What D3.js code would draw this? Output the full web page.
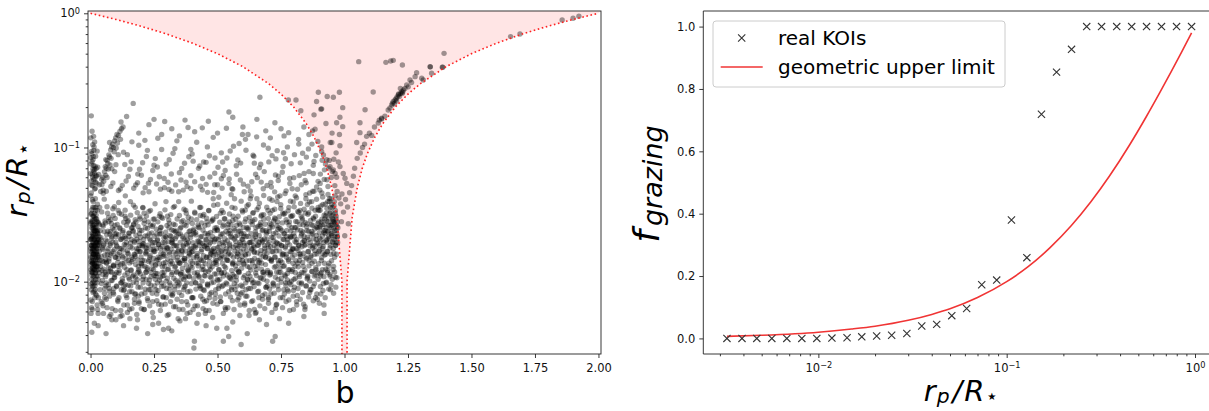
<!DOCTYPE html>
<html lang="en">
<head>
<meta charset="UTF-8">
<title>Grazing KOIs</title>
<script src="https://d3js.org/d3.v7.min.js"></script>
<style>
  body {margin: 0; background: #fff;}
  text {font-family: "DejaVu Sans", sans-serif; fill: #000;}
</style>
</head>
<body>
<script>
const width = 1209, height = 411;

// ---- left panel: impact parameter b vs r_p/R* ----
const koisEdgeStrip = [
[.002,.0123],[.006,.0186],[.011,.0093],[.015,.0265],[.019,.0144],[.024,.0217],[.029,.0110],[.034,.0168],[.038,.0240],[.004,.0324],
[.008,.0137],[.013,.0206],[.017,.0098],[.021,.0293],[.026,.0160],[.031,.0076],[.036,.0196],[.001,.0177],[.005,.0252],[.009,.0117],
[.014,.0358],[.018,.0186],[.022,.0130],[.027,.0228],[.032,.0152],[.003,.0087],[.007,.0279],[.012,.0160],[.016,.0123],[.020,.0340],
[.025,.0196],[.030,.0104],[.035,.0265],[.039,.0130],[.002,.0206],[.006,.0152],[.010,.0395],[.014,.0110],[.018,.0240],[.023,.0177],
[.028,.0062],[.033,.0217],[.037,.0144],[.004,.0104],[.008,.0228],[.012,.0308],[.016,.0168],[.020,.0081],[.024,.0137],[.029,.0279],
[.034,.0117],[.001,.0436],[.005,.0144],[.009,.0196],[.013,.0123],[.017,.0252],[.021,.0160],[.026,.0098],[.031,.0206],[.036,.0358],
[.003,.0168],[.007,.0071],[.011,.0217],[.015,.0186],[.019,.0415],[.023,.0110],[.028,.0177],[.033,.0137],[.038,.0087],[.002,.0279],
[.006,.0117],[.010,.0137],[.014,.0240],[.018,.0152],[.022,.0196],[.027,.0340],[.032,.0123],[.004,.0186],[.008,.0098],[.012,.0265],
[.016,.0207],[.020,.0130],[.025,.0152],[.030,.0228],[.003,.0458],[.009,.0308],[.013,.0160],[.017,.0093],[.022,.0252],[.027,.0130],
[.035,.0186],[.005,.0217],[.011,.0177],[.019,.0117],[.024,.0293],[.007,.0062],[.015,.0049],[.002,.0058],[.026,.0067],[.010,.0083],
[.030,.0058],[.017,.0076],
[.001,.0152],[.003,.0231],[.004,.0118],[.006,.0286],[.007,.0139],[.009,.0171],[.010,.0247],[.012,.0101],[.013,.0193],[.015,.0322],
[.016,.0132],[.018,.0214],[.019,.0087],[.021,.0181],[.022,.0269],[.024,.0121],[.025,.0168],[.027,.0377],[.028,.0146],[.030,.0199],
[.002,.0096],[.003,.0187],[.005,.0343],[.006,.0127],[.008,.0262],[.009,.0153],[.011,.0109],[.012,.0224],[.014,.0172],[.015,.0134],
[.017,.0299],[.018,.0116],[.020,.0243],[.021,.0147],[.023,.0202],[.024,.0079],[.026,.0235],[.027,.0185],[.029,.0156],[.031,.0273],
[.001,.0271],[.002,.0141],[.004,.0209],[.005,.0112],[.007,.0176],[.008,.0408],[.010,.0161],[.011,.0251],[.013,.0127],[.014,.0289],
[.016,.0183],[.017,.0137],[.019,.0226],[.020,.0104],[.022,.0314],[.023,.0164],[.025,.0128],[.026,.0207],[.028,.0243],[.033,.0191],
[.000,.0206],[.002,.0318],[.003,.0134],[.005,.0164],[.006,.0211],[.008,.0126],[.009,.0359],[.011,.0143],[.012,.0188],[.014,.0085],
[.015,.0237],[.016,.0491],[.018,.0158],[.020,.0196],[.021,.0358],[.023,.0238],[.025,.0279],[.001,.0073],[.004,.0064],[.007,.0092],
[.004,.0525],[.012,.0575],[.019,.0496],[.007,.0632],[.015,.0688],[.024,.0541],[.002,.0754],[.010,.0812],[.021,.0615],[.005,.0897],
[.013,.0952],[.028,.0713],[.009,.1050],[.017,.0589],[.001,.1180],[.006,.1320],[.003,.1720],[.011,.0735],[.020,.0860],[.032,.0630],
[.008,.0518],[.016,.1100],[.000,.0640],[.026,.0940],[.035,.0528],
[.003,.0561],[.008,.0603],[.013,.0668],[.018,.0724],[.006,.0782],[.011,.0855],[.016,.0641],[.022,.0697],[.004,.0936],[.014,.1010],
[.019,.0551],[.009,.0692],[.001,.0840],[.025,.0612],[.012,.1210]
];

const koisSpur = [
[.040,.0470],[.045,.0530],[.048,.0600],[.052,.0560],[.055,.0660],[.058,.0720],[.062,.0700],[.065,.0800],[.068,.0760],[.072,.0880],
[.075,.0850],[.079,.0960],[.083,.1010],[.087,.1060],[.090,.1000],[.095,.1120],[.099,.1180],[.104,.1250],[.110,.1230],[.116,.1320],
[.122,.1380],[.128,.1420],[.050,.0480],[.060,.0620],[.070,.0690],[.081,.0830],[.093,.0930],[.106,.1080],[.118,.1150],[.044,.0580],
[.077,.0740],[.101,.0990]
];

const koisDisk = [
[.045,.0121],[.052,.0187],[.061,.0093],[.048,.0265],[.072,.0142],[.083,.0211],[.095,.0108],[.067,.0324],[.056,.0076],[.088,.0168],
[.079,.0289],[.091,.0131],[.043,.0154],[.064,.0224],[.099,.0197],[.075,.0085],[.058,.0118],[.086,.0251],[.047,.0069],[.069,.0176],
[.081,.0102],[.094,.0362],[.053,.0141],[.077,.0236],[.062,.0098],[.097,.0152],[.042,.0205],[.071,.0127],[.085,.0063],[.059,.0274],
[.092,.0089],[.066,.0159],[.049,.0113],[.078,.0192],[.089,.0311],[.055,.0082],[.074,.0055],[.096,.0226],[.063,.0139],[.084,.0117],
[.103,.0117],[.118,.0206],[.131,.0093],[.147,.0279],[.162,.0152],[.178,.0081],[.193,.0228],[.109,.0340],[.125,.0137],[.139,.0186],
[.154,.0062],[.169,.0265],[.184,.0104],[.197,.0168],[.112,.0076],[.128,.0240],[.143,.0123],[.157,.0395],[.173,.0196],[.188,.0130],
[.106,.0160],[.121,.0098],[.136,.0308],[.151,.0217],[.166,.0110],[.181,.0045],[.195,.0293],[.115,.0177],[.133,.0087],[.149,.0144],
[.164,.0252],[.176,.0358],[.191,.0071],[.101,.0228],[.124,.0056],[.141,.0196],[.158,.0093],[.172,.0160],[.186,.0117],[.199,.0137],
[.113,.0324],[.127,.0152],[.145,.0067],[.161,.0206],[.179,.0279],[.192,.0186],[.108,.0130],[.137,.0436],[.153,.0104],[.168,.0240],
[.183,.0168],[.119,.0098],[.174,.0081],[.135,.0217],[.189,.0123],
[.204,.0144],[.216,.0252],[.229,.0087],[.243,.0186],[.257,.0110],[.271,.0308],[.286,.0160],[.298,.0076],[.209,.0206],[.223,.0123],
[.236,.0340],[.249,.0168],[.263,.0098],[.278,.0228],[.292,.0130],[.212,.0062],[.227,.0279],[.241,.0137],[.254,.0196],[.268,.0049],
[.282,.0117],[.295,.0217],[.206,.0358],[.219,.0104],[.233,.0152],[.247,.0265],[.261,.0081],[.275,.0177],[.289,.0093],[.202,.0186],
[.214,.0130],[.231,.0228],[.245,.0071],[.259,.0144],[.273,.0240],[.284,.0110],[.297,.0395],[.207,.0098],[.221,.0168],[.238,.0117],
[.252,.0293],[.266,.0152],[.279,.0067],[.293,.0196],[.225,.0041],[.264,.0206],[.211,.0324],[.248,.0123],[.287,.0137],[.235,.0087],
[.276,.0252],[.218,.0177],[.255,.0104],
[.304,.0123],[.317,.0217],[.331,.0093],[.344,.0168],[.358,.0279],[.372,.0110],[.386,.0196],[.399,.0076],[.309,.0252],[.322,.0137],
[.336,.0186],[.349,.0062],[.363,.0144],[.377,.0324],[.391,.0160],[.312,.0098],[.326,.0358],[.339,.0117],[.353,.0228],[.367,.0087],
[.381,.0206],[.394,.0130],[.301,.0177],[.315,.0071],[.328,.0240],[.342,.0152],[.356,.0104],[.369,.0265],[.384,.0123],[.397,.0293],
[.307,.0045],[.319,.0196],[.334,.0130],[.347,.0395],[.361,.0168],[.374,.0053],[.388,.0110],[.303,.0308],[.324,.0081],[.338,.0217],
[.351,.0137],[.365,.0186],[.379,.0098],[.392,.0240],[.311,.0160],[.345,.0093],[.371,.0144],[.396,.0177],[.333,.0265],[.359,.0117],
[.383,.0067],[.321,.0206],[.375,.0340],
[.402,.0168],[.415,.0098],[.428,.0252],[.441,.0130],[.455,.0206],[.468,.0076],[.482,.0293],[.496,.0144],[.407,.0228],[.421,.0117],
[.434,.0358],[.447,.0186],[.461,.0093],[.474,.0160],[.488,.0240],[.404,.0062],[.418,.0152],[.431,.0196],[.444,.0087],[.458,.0279],
[.471,.0123],[.485,.0177],[.499,.0104],[.411,.0324],[.424,.0137],[.438,.0217],[.451,.0110],[.465,.0340],[.478,.0168],[.492,.0081],
[.409,.0036],[.423,.0265],[.436,.0144],[.449,.0071],[.463,.0228],[.476,.0098],[.489,.0206],[.413,.0186],[.427,.0110],[.442,.0308],
[.456,.0152],[.469,.0130],[.483,.0415],[.497,.0252],[.419,.0049],[.446,.0123],[.472,.0196],[.494,.0160],[.432,.0093],[.459,.0177],
[.486,.0137],[.405,.0240],[.452,.0058],
[.503,.0206],[.516,.0117],[.529,.0293],[.542,.0160],[.556,.0087],[.569,.0240],[.583,.0137],[.597,.0340],[.508,.0152],[.521,.0228],
[.534,.0098],[.548,.0186],[.561,.0308],[.575,.0123],[.588,.0196],[.512,.0071],[.525,.0265],[.538,.0144],[.552,.0217],[.565,.0110],
[.579,.0177],[.592,.0081],[.501,.0376],[.514,.0168],[.527,.0130],[.541,.0252],[.554,.0104],[.567,.0415],[.581,.0160],[.594,.0228],
[.506,.0093],[.519,.0196],[.532,.0062],[.546,.0279],[.559,.0137],[.572,.0186],[.586,.0117],[.599,.0206],[.511,.0324],[.537,.0045],
[.563,.0152],[.589,.0265],[.523,.0110],[.549,.0240],[.576,.0093],[.598,.0144],[.531,.0168],[.557,.0358],[.584,.0076],[.505,.0123],
[.544,.0039],[.571,.0217],
[.604,.0228],[.617,.0130],[.631,.0279],[.644,.0168],[.658,.0098],[.671,.0308],[.685,.0186],[.698,.0117],[.609,.0160],[.622,.0376],
[.636,.0144],[.649,.0217],[.663,.0076],[.676,.0240],[.689,.0152],[.612,.0087],[.626,.0196],[.639,.0324],[.653,.0123],[.667,.0265],
[.681,.0104],[.694,.0206],[.602,.0137],[.615,.0252],[.628,.0110],[.642,.0186],[.655,.0415],[.669,.0160],[.682,.0293],[.696,.0093],
[.607,.0067],[.621,.0217],[.634,.0177],[.647,.0130],[.661,.0358],[.674,.0137],[.687,.0081],[.611,.0293],[.638,.0098],[.664,.0196],
[.691,.0240],[.624,.0056],[.651,.0252],[.678,.0117],[.605,.0186],[.632,.0436],[.659,.0144],[.686,.0168],[.645,.0062],[.672,.0206],
[.699,.0340],[.618,.0104],[.693,.0048],
[.703,.0196],[.716,.0340],[.729,.0130],[.742,.0252],[.756,.0160],[.769,.0098],[.783,.0279],[.797,.0177],[.708,.0117],[.721,.0228],
[.734,.0395],[.748,.0144],[.761,.0206],[.775,.0087],[.788,.0308],[.712,.0265],[.725,.0152],[.738,.0104],[.752,.0186],[.765,.0324],
[.779,.0123],[.792,.0217],[.701,.0076],[.714,.0168],[.727,.0293],[.741,.0137],[.754,.0240],[.767,.0110],[.781,.0358],[.794,.0152],
[.706,.0252],[.719,.0093],[.732,.0196],[.746,.0436],[.759,.0130],[.772,.0217],[.786,.0168],[.799,.0062],[.711,.0144],[.737,.0279],
[.763,.0081],[.789,.0240],[.723,.0186],[.749,.0117],[.776,.0206],[.798,.0393],[.731,.0067],[.757,.0324],[.784,.0098],[.705,.0415],
[.744,.0053],[.771,.0160],[.795,.0123],
[.803,.0217],[.816,.0137],[.829,.0308],[.842,.0186],[.856,.0110],[.869,.0265],[.883,.0160],[.896,.0358],[.808,.0252],[.821,.0098],
[.834,.0196],[.848,.0415],[.861,.0144],[.875,.0228],[.888,.0123],[.812,.0177],[.825,.0340],[.838,.0130],[.852,.0240],[.865,.0087],
[.879,.0293],[.892,.0196],[.801,.0104],[.814,.0279],[.827,.0160],[.841,.0217],[.854,.0376],[.867,.0152],[.881,.0110],[.894,.0252],
[.806,.0436],[.819,.0186],[.832,.0117],[.846,.0324],[.859,.0206],[.872,.0137],[.886,.0076],[.899,.0168],[.811,.0071],[.837,.0265],
[.863,.0458],[.889,.0206],[.823,.0144],[.849,.0093],[.876,.0186],[.898,.0279],[.831,.0228],[.857,.0168],[.884,.0340],[.805,.0130],
[.844,.0062],[.871,.0395],[.893,.0117],
[.903,.0186],[.912,.0265],[.921,.0137],[.929,.0324],[.938,.0217],[.946,.0160],[.954,.0293],[.962,.0240],[.968,.0196],[.906,.0110],
[.915,.0376],[.924,.0228],[.932,.0168],[.941,.0415],[.949,.0252],[.957,.0130],[.964,.0340],[.971,.0279],[.901,.0252],[.909,.0144],
[.918,.0196],[.927,.0098],[.935,.0279],[.944,.0186],[.952,.0358],[.959,.0206],[.966,.0265],[.972,.0217],[.904,.0340],[.913,.0123],
[.922,.0293],[.931,.0206],[.939,.0137],[.948,.0308],[.956,.0177],[.963,.0436],[.969,.0160],[.907,.0081],[.917,.0240],[.926,.0160],
[.934,.0395],[.943,.0110],[.951,.0228],[.958,.0279],[.965,.0186],[.974,.0252],[.911,.0458],[.928,.0252],[.945,.0087],[.961,.0152],
[.937,.0240],[.953,.0196],[.967,.0308],[.919,.0067],[.942,.0324],[.960,.0395],[.970,.0228],[.947,.0415],[.955,.0123],[.973,.0196],
[.914,.0177],[.933,.0117],[.950,.0265],[.964,.0108]
];

const koisDiskFill = [
[.041,.0213],[.043,.0097],[.044,.0331],[.046,.0142],[.047,.0178],[.049,.0066],[.050,.0259],[.052,.0124],[.053,.0191],[.054,.0412],
[.056,.0158],[.057,.0283],[.059,.0109],[.060,.0205],[.062,.0074],[.063,.0137],[.065,.0362],[.066,.0169],[.068,.0238],[.069,.0118],
[.071,.0301],[.073,.0148],[.074,.0089],[.076,.0227],[.077,.0186],[.079,.0126],[.080,.0057],[.082,.0271],[.083,.0163],[.085,.0102],
[.087,.0197],[.088,.0349],[.090,.0131],[.091,.0081],[.093,.0244],[.094,.0174],[.096,.0113],[.097,.0296],[.099,.0152],[.100,.0216],
[.102,.0093],[.104,.0183],[.105,.0267],[.107,.0139],[.108,.0071],[.110,.0224],[.111,.0389],[.113,.0121],[.114,.0165],[.116,.0248],
[.118,.0133],[.119,.0061],[.121,.0207],[.122,.0318],[.124,.0156],[.125,.0105],[.127,.0233],[.128,.0172],[.130,.0086],[.131,.0277],
[.133,.0189],[.134,.0128],[.136,.0341],[.137,.0095],[.139,.0211],[.140,.0149],[.142,.0263],[.143,.0076],[.145,.0171],[.146,.0116],
[.148,.0286],[.149,.0161],[.151,.0107],[.152,.0229],[.154,.0138],[.155,.0053],[.157,.0194],[.158,.0313],[.160,.0122],[.161,.0251],
[.163,.0084],[.164,.0178],[.166,.0147],[.167,.0236],[.169,.0372],[.170,.0112],[.172,.0201],[.173,.0069],[.175,.0159],[.176,.0289],
[.178,.0134],[.179,.0222],[.181,.0098],[.182,.0176],[.184,.0327],[.185,.0145],[.187,.0258],[.188,.0078],[.190,.0199],[.191,.0119],
[.193,.0167],[.194,.0304],[.196,.0091],[.197,.0214],[.199,.0153],[.200,.0063],[.202,.0241],[.203,.0131],[.205,.0184],[.206,.0355],
[.208,.0109],[.209,.0192],[.211,.0272],[.212,.0143],[.214,.0082],[.215,.0219],[.217,.0164],[.218,.0117],[.220,.0308],[.221,.0179],
[.223,.0127],[.224,.0249],[.226,.0072],[.227,.0187],[.229,.0141],[.230,.0333],[.232,.0103],[.233,.0208],[.235,.0157],[.236,.0264],
[.238,.0094],[.239,.0173],[.241,.0231],[.242,.0125],[.244,.0059],[.245,.0196],[.247,.0292],[.248,.0149],[.250,.0111],[.251,.0218],
[.253,.0168],[.254,.0381],[.256,.0132],[.257,.0087],[.259,.0246],[.260,.0177],[.262,.0115],[.263,.0203],[.265,.0279],[.266,.0146],
[.268,.0068],[.269,.0189],[.271,.0136],[.272,.0226],[.274,.0321],[.275,.0108],[.277,.0162],[.278,.0255],[.280,.0092],[.281,.0183],
[.283,.0129],[.284,.0297],[.286,.0154],[.287,.0077],[.289,.0212],[.290,.0118],[.292,.0171],[.293,.0343],[.295,.0139],[.296,.0234],
[.298,.0101],[.299,.0181],[.301,.0262],[.302,.0056],[.304,.0147],[.305,.0198],[.307,.0124],[.308,.0288],[.310,.0166],[.311,.0088],
[.313,.0221],[.314,.0135],[.316,.0316],[.317,.0175],[.319,.0113],[.320,.0243],[.322,.0079],[.323,.0193],[.325,.0151],[.326,.0268],
[.328,.0106],[.329,.0185],[.331,.0364],[.332,.0128],[.334,.0209],[.335,.0065],[.337,.0161],[.338,.0239],[.340,.0119],[.341,.0293],
[.343,.0144],[.344,.0099],[.346,.0227],[.347,.0172],[.349,.0083],[.350,.0311],[.352,.0137],[.353,.0196],[.355,.0114],[.356,.0254],
[.358,.0159],[.359,.0071],[.361,.0218],[.362,.0126],[.364,.0285],[.365,.0182],[.367,.0104],[.368,.0347],[.370,.0149],[.371,.0205],
[.373,.0093],[.374,.0169],[.376,.0261],[.377,.0133],[.379,.0224],[.380,.0058],[.382,.0188],[.383,.0121],[.385,.0302],[.386,.0155],
[.388,.0236],[.389,.0109],[.391,.0174],[.392,.0085],[.394,.0213],[.395,.0142],[.397,.0398],[.398,.0166],[.400,.0127],[.401,.0271],
[.403,.0195],[.404,.0076],[.406,.0151],[.407,.0247],[.409,.0116],[.410,.0329],[.412,.0179],[.413,.0098],[.415,.0223],[.416,.0138],
[.418,.0289],[.419,.0162],[.421,.0066],[.422,.0201],[.424,.0131],[.425,.0256],[.427,.0108],[.428,.0186],[.430,.0357],[.431,.0147],
[.433,.0215],[.434,.0089],[.436,.0168],[.437,.0274],[.439,.0123],[.440,.0193],[.442,.0074],[.443,.0242],[.445,.0156],[.446,.0317],
[.448,.0111],[.449,.0183],[.451,.0229],[.452,.0136],[.454,.0061],[.455,.0204],[.457,.0297],[.458,.0152],[.460,.0096],[.461,.0176],
[.463,.0265],[.464,.0119],[.466,.0338],[.467,.0189],[.469,.0141],[.470,.0081],[.472,.0233],[.473,.0164],[.475,.0107],[.476,.0282],
[.478,.0172],[.479,.0129],[.481,.0216],[.482,.0069],[.484,.0157],[.485,.0371],[.487,.0198],[.488,.0114],[.490,.0251],[.491,.0145],
[.493,.0087],[.494,.0209],[.496,.0306],[.497,.0134],[.499,.0178],[.500,.0241],[.502,.0102],[.503,.0165],[.505,.0426],[.506,.0123],
[.508,.0192],[.509,.0277],[.511,.0077],[.512,.0148],[.514,.0226],[.515,.0115],[.517,.0339],[.518,.0171],[.520,.0137],[.521,.0259],
[.523,.0094],[.524,.0185],[.526,.0153],[.527,.0294],[.529,.0209],[.530,.0064],[.532,.0127],[.533,.0237],[.535,.0176],[.536,.0384],
[.538,.0112],[.539,.0202],[.541,.0144],[.542,.0268],[.544,.0084],[.545,.0163],[.547,.0319],[.548,.0191],[.550,.0106],[.551,.0229],
[.553,.0158],[.554,.0445],[.556,.0121],[.557,.0213],[.559,.0072],[.560,.0286],[.562,.0139],[.563,.0181],[.565,.0248],[.566,.0097],
[.568,.0169],[.569,.0352],[.571,.0131],[.572,.0199],[.574,.0109],[.575,.0263],[.577,.0154],[.578,.0082],[.580,.0222],[.581,.0307],
[.583,.0118],[.584,.0184],[.586,.0273],[.587,.0146],[.589,.0067],[.590,.0238],[.592,.0167],[.593,.0398],[.595,.0126],[.596,.0207],
[.598,.0092],[.599,.0331],[.601,.0175],[.602,.0253],[.604,.0135],[.605,.0194],[.607,.0111],[.608,.0279],[.610,.0157],[.611,.0078],
[.613,.0217],[.614,.0143],[.616,.0366],[.617,.0186],[.619,.0103],[.620,.0245],[.622,.0161],[.623,.0089],[.625,.0301],[.626,.0128],
[.628,.0196],[.629,.0415],[.631,.0122],[.632,.0228],[.634,.0071],[.635,.0173],[.637,.0267],[.638,.0138],[.640,.0211],[.641,.0327],
[.643,.0099],[.644,.0181],[.646,.0149],[.647,.0291],[.649,.0236],[.650,.0116],[.652,.0059],[.653,.0203],[.655,.0344],[.656,.0164],
[.658,.0132],[.659,.0258],[.661,.0187],[.662,.0085],[.664,.0221],[.665,.0384],[.667,.0145],[.668,.0107],[.670,.0276],[.671,.0171],
[.673,.0124],[.674,.0314],[.676,.0197],[.677,.0074],[.679,.0243],[.680,.0155],[.682,.0439],[.683,.0113],[.685,.0208],[.686,.0177],
[.688,.0268],[.689,.0134],[.691,.0091],[.692,.0226],[.694,.0359],[.695,.0163],[.697,.0121],[.698,.0189],[.700,.0296],[.701,.0069],
[.703,.0149],[.704,.0237],[.706,.0112],[.707,.0323],[.709,.0182],[.710,.0081],[.712,.0214],[.713,.0142],[.715,.0404],[.716,.0256],
[.718,.0167],[.719,.0098],[.721,.0283],[.722,.0201],[.724,.0128],[.725,.0346],[.727,.0153],[.728,.0063],[.730,.0231],[.731,.0179],
[.733,.0118],[.734,.0262],[.736,.0193],[.737,.0427],[.739,.0144],[.740,.0087],[.742,.0219],[.743,.0305],[.745,.0169],[.746,.0126],
[.748,.0248],[.749,.0375],[.751,.0106],[.752,.0185],[.754,.0139],[.755,.0274],[.757,.0076],[.758,.0207],[.760,.0161],[.761,.0318],
[.763,.0131],[.764,.0227],[.766,.0453],[.767,.0178],[.769,.0094],[.770,.0289],[.772,.0152],[.773,.0241],[.775,.0115],[.776,.0196],
[.778,.0337],[.779,.0146],[.781,.0073],[.782,.0263],[.784,.0188],[.785,.0123],[.787,.0398],[.788,.0213],[.790,.0166],[.791,.0101],
[.793,.0252],[.794,.0174],[.796,.0311],[.797,.0137],[.799,.0086],[.800,.0229],[.802,.0361],[.803,.0158],[.805,.0199],[.806,.0117],
[.808,.0281],[.809,.0143],[.811,.0422],[.812,.0206],[.814,.0079],[.815,.0243],[.817,.0171],[.818,.0129],[.820,.0329],[.821,.0186],
[.823,.0109],[.824,.0267],[.826,.0154],[.827,.0383],[.829,.0219],[.830,.0096],[.832,.0182],[.833,.0298],[.835,.0139],[.836,.0235],
[.838,.0163],[.839,.0068],[.841,.0346],[.842,.0201],[.844,.0122],[.845,.0276],[.847,.0189],[.848,.0445],[.850,.0148],[.851,.0257],
[.853,.0105],[.854,.0214],[.856,.0318],[.857,.0167],[.859,.0238],[.860,.0131],[.862,.0392],[.863,.0083],[.865,.0196],[.866,.0286],
[.868,.0156],[.869,.0226],[.871,.0119],[.872,.0353],[.874,.0178],[.875,.0263],[.877,.0092],[.878,.0209],[.880,.0471],[.881,.0142],
[.883,.0247],[.884,.0184],[.886,.0307],[.887,.0127],[.889,.0221],[.890,.0411],[.892,.0161],[.893,.0074],[.895,.0272],[.896,.0193],
[.898,.0136],[.899,.0339],[.901,.0231],[.902,.0172],[.904,.0258],[.905,.0114],[.907,.0366],[.908,.0205],[.910,.0151],[.911,.0292],
[.913,.0219],[.914,.0428],[.916,.0183],[.917,.0097],[.919,.0267],[.920,.0313],[.922,.0158],[.923,.0241],[.925,.0379],[.926,.0124],
[.928,.0202],[.929,.0284],[.931,.0353],[.932,.0167],[.934,.0236],[.935,.0446],[.937,.0131],[.938,.0299],[.940,.0211],[.941,.0396],
[.943,.0178],[.944,.0262],[.946,.0331],[.947,.0228],[.949,.0143],[.950,.0377],[.952,.0281],[.953,.0199],[.955,.0314],[.956,.0248],
[.958,.0163],[.959,.0366],[.961,.0272],[.962,.0216],[.964,.0324],[.965,.0187],[.967,.0293],[.968,.0241],[.970,.0259],[.971,.0214]
];

const koisDiskLower = [
[.042,.0071],[.047,.0102],[.051,.0058],[.056,.0089],[.061,.0113],[.065,.0064],[.070,.0095],[.075,.0078],[.079,.0119],[.084,.0052],
[.089,.0083],[.093,.0107],[.098,.0061],[.103,.0092],[.107,.0073],[.112,.0116],[.117,.0055],[.121,.0087],[.126,.0101],[.131,.0067],
[.135,.0112],[.140,.0079],[.145,.0059],[.149,.0094],[.154,.0084],[.159,.0121],[.163,.0063],[.168,.0099],[.173,.0074],[.177,.0108],
[.182,.0057],[.187,.0091],[.191,.0069],[.196,.0114],[.201,.0081],[.205,.0104],[.210,.0062],[.215,.0088],[.219,.0118],[.224,.0075],
[.229,.0097],[.233,.0066],[.238,.0109],[.243,.0082],[.247,.0054],[.252,.0093],[.257,.0115],[.261,.0072],[.266,.0086],[.271,.0103],
[.275,.0061],[.280,.0098],[.285,.0077],[.289,.0111],[.294,.0068],[.299,.0089],[.303,.0106],[.308,.0057],[.313,.0094],[.317,.0081],
[.322,.0117],[.327,.0065],[.331,.0087],[.336,.0102],[.341,.0074],[.345,.0053],[.350,.0096],[.355,.0113],[.359,.0079],[.364,.0062],
[.369,.0091],[.373,.0108],[.378,.0071],[.383,.0084],[.387,.0119],[.392,.0059],[.397,.0097],[.401,.0076],[.406,.0105],[.411,.0066],
[.415,.0088],[.420,.0112],[.425,.0057],[.429,.0093],[.434,.0078],[.439,.0101],[.443,.0063],[.448,.0086],[.453,.0118],[.457,.0072],
[.462,.0095],[.467,.0061],[.471,.0109],[.476,.0083],[.481,.0054],[.485,.0099],[.490,.0075],[.495,.0114],[.499,.0068],[.504,.0089],
[.509,.0104],[.513,.0071],[.518,.0092],[.523,.0058],[.527,.0117],[.532,.0081],[.537,.0096],[.541,.0064],[.546,.0108],[.551,.0077],
[.555,.0091],[.560,.0113],[.565,.0062],[.569,.0087],[.574,.0102],[.579,.0073],[.583,.0119],[.588,.0056],[.593,.0094],[.597,.0083],
[.602,.0107],[.607,.0069],[.611,.0098],[.616,.0078],[.621,.0115],[.625,.0061],[.630,.0089],[.635,.0103],[.639,.0072],[.644,.0092],
[.649,.0058],[.653,.0111],[.658,.0084],[.663,.0097],[.667,.0066],[.672,.0106],[.677,.0079],[.681,.0118],[.686,.0063],[.691,.0091],
[.695,.0101],[.700,.0074],[.705,.0088],[.709,.0114],[.714,.0059],[.719,.0096],[.723,.0082],[.728,.0108],[.733,.0068],[.737,.0093],
[.742,.0117],[.747,.0076],[.751,.0099],[.756,.0064],[.761,.0087],[.765,.0112],[.770,.0071],[.775,.0103],[.779,.0085],[.784,.0061],
[.789,.0095],[.793,.0119],[.798,.0078],[.803,.0091],[.807,.0106],[.812,.0067],[.817,.0089],[.821,.0113],[.826,.0074],[.831,.0098],
[.835,.0083],[.840,.0116],[.845,.0065],[.849,.0093],[.854,.0108],[.859,.0077],[.863,.0101],[.868,.0087],[.873,.0119],[.877,.0072],
[.882,.0097],[.887,.0112],[.891,.0081],[.896,.0104],[.901,.0069],[.905,.0092],[.910,.0117],[.915,.0086],[.919,.0109],[.924,.0076],
[.929,.0099],[.933,.0121],[.938,.0088],[.943,.0113],[.947,.0095],[.952,.0104],[.957,.0082],[.961,.0118],[.966,.0091],[.970,.0107]
];

const koisDiskCore = [
[.048,.0174],[.054,.0236],[.060,.0146],[.066,.0199],[.072,.0281],[.078,.0158],[.084,.0217],[.090,.0133],[.096,.0262],[.102,.0187],
[.109,.0149],[.115,.0252],[.121,.0177],[.127,.0212],[.133,.0138],[.139,.0296],[.145,.0163],[.151,.0231],[.157,.0182],[.163,.0141],
[.170,.0269],[.176,.0154],[.182,.0207],[.188,.0175],[.194,.0242],[.200,.0136],[.206,.0191],[.212,.0287],[.218,.0161],[.224,.0219],
[.231,.0145],[.237,.0203],[.243,.0258],[.249,.0172],[.255,.0134],[.261,.0226],[.267,.0189],[.273,.0151],[.279,.0302],[.285,.0196],
[.292,.0157],[.298,.0214],[.304,.0179],[.310,.0273],[.316,.0142],[.322,.0201],[.328,.0166],[.334,.0235],[.340,.0184],[.346,.0139],
[.353,.0249],[.359,.0171],[.365,.0211],[.371,.0148],[.377,.0192],[.383,.0278],[.389,.0163],[.395,.0224],[.401,.0137],[.407,.0183],
[.414,.0232],[.420,.0156],[.426,.0199],[.432,.0311],[.438,.0174],[.444,.0143],[.450,.0261],[.456,.0188],[.462,.0221],[.468,.0152],
[.475,.0205],[.481,.0287],[.487,.0168],[.493,.0139],[.499,.0244],[.505,.0181],[.511,.0216],[.517,.0157],[.523,.0327],[.529,.0194],
[.536,.0147],[.542,.0229],[.548,.0176],[.554,.0265],[.560,.0135],[.566,.0208],[.572,.0292],[.578,.0162],[.584,.0239],[.590,.0189],
[.597,.0154],[.603,.0218],[.609,.0341],[.615,.0171],[.621,.0251],[.627,.0144],[.633,.0197],[.639,.0283],[.645,.0165],[.651,.0226],
[.658,.0187],[.664,.0139],[.670,.0259],[.676,.0202],[.682,.0316],[.688,.0153],[.694,.0234],[.700,.0178],[.706,.0271],[.712,.0146],
[.719,.0213],[.725,.0298],[.731,.0169],[.737,.0245],[.743,.0191],[.749,.0351],[.755,.0157],[.761,.0229],[.767,.0183],[.773,.0277],
[.780,.0142],[.786,.0218],[.792,.0306],[.798,.0175],[.804,.0253],[.810,.0196],[.816,.0334],[.822,.0161],[.828,.0241],[.834,.0288],
[.841,.0203],[.847,.0152],[.853,.0269],[.859,.0326],[.865,.0184],[.871,.0237],[.877,.0299],[.883,.0171],[.889,.0256],[.895,.0344],
[.902,.0211],[.908,.0278],[.914,.0163],[.920,.0232],[.926,.0309],[.932,.0197],[.938,.0263],[.944,.0358],[.950,.0221],[.956,.0287]
];

const koisLow = [
[.005,.0042],[.061,.0041],[.407,.0032],[.593,.0034],[.523,.0036],[.717,.0036],[.727,.0039],[.497,.0045],[.617,.0041],[.287,.0044],
[.32,.0043],[.13,.0047],[.185,.0052],[.245,.0048],[.352,.0051],[.455,.0047],[.56,.005],[.665,.0052],[.78,.0049],[.84,.0055],
[.92,.0058],[.1,.0052],[.03,.0047]
];

const koisUpper = [
[.05,.0455],[.08,.0512],[.11,.0478],[.14,.0563],[.17,.0497],[.2,.0621],[.23,.0468],[.26,.0534],[.29,.0587],[.32,.0472],
[.35,.0649],[.38,.0511],[.41,.0556],[.44,.0482],[.47,.0603],[.5,.0527],[.53,.0674],[.56,.0489],[.59,.0572],[.62,.0515],
[.65,.0631],[.68,.0493],[.71,.0548],[.74,.0612],[.77,.0475],[.8,.0596],[.83,.0528],[.86,.0661],[.89,.0507],[.92,.0578],
[.065,.0598],[.095,.0661],[.125,.0522],[.155,.0688],[.185,.0547],[.215,.0502],[.245,.0673],[.275,.0489],[.305,.0551],[.335,.0526],
[.365,.0481],[.395,.0617],[.425,.0699],[.455,.0531],[.485,.0462],[.515,.0585],[.545,.0538],[.575,.0631],[.605,.0468],[.635,.0556],
[.665,.0705],[.695,.0521],[.725,.0467],[.755,.0654],[.785,.0539],[.815,.0488],[.845,.0568],[.875,.0472],[.905,.0633],[.935,.0512],
[.06,.0812],[.1,.0745],[.13,.0921],[.16,.0783],[.19,.1040],[.22,.0856],[.25,.0738],[.28,.0967],[.31,.0811],[.34,.1120],
[.37,.0762],[.4,.0894],[.43,.0728],[.46,.1010],[.49,.0835],[.52,.0779],[.55,.0942],[.58,.0806],[.61,.1150],[.64,.0874],
[.67,.0751],[.70,.0988],[.73,.0822],[.76,.0913],[.79,.0757],[.82,.1060],[.85,.0848],[.88,.0786],[.91,.0935],[.94,.0801],
[.075,.1090],[.145,.0884],[.205,.0770],[.265,.1170],[.325,.0906],[.395,.0968],[.455,.0775],[.515,.0912],[.585,.1070],[.645,.0764],
[.715,.0870],[.775,.1010],[.835,.0905],[.895,.1110],[.925,.0752],
[.168,.213],[.142,.170],[.667,.237],[.372,.160],[.464,.157],[.56,.168],[.726,.153],[.654,.120],[.23,.148],[.28,.125],
[.32,.138],[.41,.131],[.5,.128],[.6,.142],[.69,.133],[.78,.129],[.84,.142],[.88,.175],[.779,.226],[.809,.226],
[.89,.22],[.91,.194],[.897,.258],[.19,.128],[.25,.162],[.44,.140],[.535,.139],[.62,.125],[.75,.138],[.86,.125],
[.12,.155],[.35,.122],
[.062,.0472],[.088,.0543],[.117,.0491],[.149,.0608],[.178,.0526],[.207,.0459],[.236,.0577],[.263,.0715],[.291,.0502],[.318,.0634],
[.347,.0468],[.376,.0552],[.404,.0791],[.433,.0515],[.461,.0463],[.489,.0642],[.518,.0497],[.546,.0582],[.574,.0731],[.602,.0533],
[.629,.0474],[.657,.0596],[.684,.0661],[.712,.0507],[.739,.0568],[.767,.0823],[.794,.0492],[.822,.0617],[.849,.0545],[.877,.0736],
[.903,.0481],[.931,.0574],[.952,.0663],[.612,.0954],[.643,.0859],[.681,.1042],[.702,.0781],[.735,.0947],[.758,.0721],[.803,.0884],
[.826,.0768],[.858,.0976],[.887,.0872],[.912,.0803],[.938,.0702],[.468,.0868],[.502,.0713],[.537,.0834],[.563,.1021],[.591,.0765],
[.298,.0752],[.332,.0981],[.359,.0697],[.387,.0853],[.418,.1093],[.445,.0779],[.163,.1101],[.193,.0689],[.224,.0952],[.255,.0826],
[.084,.0693],[.109,.0884],[.135,.0746],[.672,.0552],[.728,.0623],[.784,.0588],[.841,.0641],[.896,.0559],[.921,.0681],[.948,.0598],
[.557,.0492],[.523,.0618],[.489,.0528],[.441,.0587],[.395,.0494],[.356,.0573],[.309,.0487],[.271,.0605],[.228,.0542],[.186,.0633],
[.708,.1180],[.762,.1220],[.819,.1150],[.874,.1330],[.598,.1250],[.483,.1190],[.384,.1410],[.292,.1560],[.214,.1130],[.655,.1620],
[.545,.1840],[.828,.1880],[.927,.1510],[.951,.1280],[.872,.1060],[.967,.0912],[.944,.1090],[.958,.0816]
];

const koisGrazing = [
[1.056,.436],[1.163,.431],[1.182,.441],[1.192,.446],[1.228,.412],[1.338,.399],[1.392,.503],[1.387,.396],
[.932,.24],[.956,.237],[.98,.258],[.907,.193],[.993,.198],[1.113,.259],[1.081,.191],[.982,.168],[.969,.153],[.993,.143],
[1.061,.153],[1.061,.129],[.884,.137],[.98,.125],[.95,.109],[.982,.103],[1.048,.109],[1.087,.121],[1.107,.123],[1.137,.16],[1.146,.163],
[.91,.101],[.917,.088],[.93,.081],[.943,.072],[.956,.068],[.963,.064],[.969,.06],[.982,.072],[.976,.078],[.995,.064],
[1.009,.054],[1.002,.059],[.904,.054],[.877,.064],
[.962,.052],[.971,.047],[.978,.042],[.985,.038],[.99,.045],[.996,.033],[1.004,.041],[1.012,.036],[1.02,.046],[1.028,.052],
[1.035,.061],[.988,.028],[1.001,.022],[1.015,.027],
[1.04,.07],[1.05,.083],[1.062,.091],[1.071,.1],[1.079,.106],[1.098,.128],[1.118,.142],[1.133,.152],[1.146,.165],[1.159,.171],
[1.172,.19],[1.179,.197],[1.186,.207],[1.192,.22],[1.199,.226],[1.203,.231],[1.207,.238],[1.212,.246],[1.216,.24],[1.22,.252],
[1.225,.26],[1.229,.258],[1.232,.268],[1.238,.275],[1.245,.292],[1.251,.283],[1.258,.318],[1.264,.305],[1.278,.337],[1.284,.361],
[1.304,.328],[1.31,.318],[1.22,.275],[1.196,.212],[1.189,.214],[1.213,.25],[1.205,.222],[1.227,.252],
[1.337,.4],[1.343,.357],[1.385,.396],[1.654,.67],[1.691,.7],[1.857,.891],[1.9,.918],[1.923,.95]
];

// dotted grazing boundaries r = 1 - b and r = b - 1
const innerEdge = [[0,1],[.1,.9],[.2,.8],[.3,.7],[.4,.6],[.5,.5],[.6,.4],[.7,.3],[.75,.25],[.8,.2],[.85,.15],[.88,.12],
  [.91,.09],[.93,.07],[.9495,.0505],[.9697,.0303],[.9899,.0101],[.99,.0001]];
const outerEdge = [[1.01,.0001],[1.0101,.0101],[1.0303,.0303],[1.0505,.0505],[1.07,.07],[1.09,.09],[1.12,.12],[1.15,.15],
  [1.2,.2],[1.25,.25],[1.3,.3],[1.4,.4],[1.5,.5],[1.6,.6],[1.7,.7],[1.8,.8],[1.9,.9],[2,1]];

const bTicks = [0, 0.25, 0.5, 0.75, 1, 1.25, 1.5, 1.75, 2];
const logMajor = [0.01, 0.1, 1];
const logMinor = [0.003,0.004,0.005,0.006,0.007,0.008,0.009,0.02,0.03,0.04,0.05,0.06,0.07,0.08,0.09,
  0.2,0.3,0.4,0.5,0.6,0.7,0.8,0.9];

// ---- right panel: grazing fraction per r_p/R* bin ----
const binR = [0.00327,0.00393,0.00471,0.00566,0.0068,0.00817,0.00981,0.0118,0.0142,0.017,0.0204,0.0245,0.0295,0.0354,
  0.0425,0.0511,0.0613,0.0737,0.0885,0.106,0.128,0.153,0.184,0.221,0.266,0.319,0.384,0.461,0.553,0.664,0.798,0.959];
const fGrazing = [0,0,0,0,0,0,0,0.001,0.002,0.005,0.008,0.010,0.016,0.040,0.045,0.073,0.096,0.172,0.187,0.380,
  0.259,0.719,0.854,0.927,1,1,1,1,1,1,1,1];
const limitR = [0.00327,0.005,0.0075,0.01,0.015,0.02,0.03,0.04,0.05,0.07,0.1,0.13,0.17,0.22,0.28,0.35,0.45,0.55,0.65,0.75,0.85,0.959];
const limitF = [0.0065,0.010,0.015,0.020,0.030,0.039,0.058,0.077,0.095,0.131,0.182,0.230,0.291,0.361,0.438,0.519,0.621,0.710,0.788,0.857,0.919,0.980];
const fTicks = [0, 0.2, 0.4, 0.6, 0.8, 1.0];

const kois = [].concat(koisEdgeStrip, koisSpur, koisDisk, koisDiskFill, koisDiskLower, koisDiskCore,
                       koisLow, koisUpper, koisGrazing);

const svg = d3.select("body").append("svg").attr("width", width).attr("height", height);

const L = {x0: 88, x1: 601, y0: 11, y1: 354};
const R = {x0: 703.3, x1: 1215, y0: 11, y1: 354};

const xL = d3.scaleLinear().domain([-0.01, 2.01]).range([L.x0, L.x1]);
const yL = d3.scaleLog().domain([0.00289, 1.04]).range([L.y1, L.y0]);
const xR = d3.scaleLog().domain([0.002449, 1.277]).range([R.x0, R.x1]);
const yR = d3.scaleLinear().domain([-0.05, 1.05]).range([R.y1, R.y0]);

const defs = svg.append("defs");
defs.append("clipPath").attr("id", "clipL").append("rect")
    .attr("x", L.x0).attr("y", L.y0).attr("width", L.x1 - L.x0).attr("height", L.y1 - L.y0);

// ---------- left panel ----------
const gL = svg.append("g").attr("clip-path", "url(#clipL)");

const edgeLine = d3.line().x(d => xL(d[0])).y(d => yL(d[1]));
const region = innerEdge.concat(outerEdge, [[2.01, 1.04], [-0.01, 1.04]]);
gL.append("path").attr("d", edgeLine(region) + "Z")
    .style("fill", "red").style("fill-opacity", 0.1).style("stroke", "none");

gL.selectAll("circle.koi").data(kois).join("circle").attr("class", "koi")
    .attr("cx", d => xL(d[0])).attr("cy", d => yL(d[1])).attr("r", 2.7)
    .style("fill", "#000").style("fill-opacity", 0.38);

[innerEdge, outerEdge].forEach(e => {
  gL.append("path").attr("d", edgeLine(e))
      .style("fill", "none").style("stroke", "#ff2020").style("stroke-width", 1.6)
      .style("stroke-dasharray", "1.6,2.6");
});

function styleAxis(g) {
  g.select(".domain").remove();
  g.selectAll("line").style("stroke", "#222").style("stroke-width", 0.9);
  g.selectAll("text").style("font-size", "11.5px").style("font-family", "DejaVu Sans, sans-serif").style("fill", "#111");
}

function superLabels(g) {
  g.selectAll("text").each(function(v) {
    const t = d3.select(this).text(null);
    const e = Math.round(Math.log10(v));
    t.append("tspan").text("10");
    t.append("tspan").attr("dy", "-0.42em").style("font-size", "8.2px").text(e < 0 ? "\u2212" + (-e) : String(e));
  });
}

svg.append("g").attr("transform", `translate(0,${L.y1})`)
    .call(d3.axisBottom(xL).tickValues(bTicks).tickFormat(d3.format(".2f")).tickSize(4).tickPadding(5.5))
    .call(styleAxis);

svg.append("g").attr("transform", `translate(${L.x0},0)`)
    .call(d3.axisLeft(yL).tickValues(logMinor).tickFormat("").tickSize(2.3))
    .call(styleAxis);
svg.append("g").attr("transform", `translate(${L.x0},0)`)
    .call(d3.axisLeft(yL).tickValues(logMajor).tickSize(4).tickPadding(4))
    .call(styleAxis).call(superLabels);

svg.append("rect").attr("x", L.x0).attr("y", L.y0).attr("width", L.x1 - L.x0).attr("height", L.y1 - L.y0)
    .style("fill", "none").style("stroke", "#222").style("stroke-width", 0.9);

// ---------- right panel ----------
svg.append("path")
    .attr("d", d3.line().curve(d3.curveMonotoneX).x((d, i) => xR(limitR[i])).y(d => yR(d))(limitF))
    .style("fill", "none").style("stroke", "#f03434").style("stroke-width", 1.6);

const cross = "M-3.6,-3.6L3.6,3.6M-3.6,3.6L3.6,-3.6";
svg.selectAll("path.koibin").data(fGrazing).join("path").attr("class", "koibin")
    .attr("d", cross)
    .attr("transform", (d, i) => `translate(${xR(binR[i])},${yR(d)})`)
    .style("stroke", "#333").style("stroke-width", 1.1).style("fill", "none");

svg.append("g").attr("transform", `translate(0,${R.y1})`)
    .call(d3.axisBottom(xR).tickValues(logMinor).tickFormat("").tickSize(2.3))
    .call(styleAxis);
svg.append("g").attr("transform", `translate(0,${R.y1})`)
    .call(d3.axisBottom(xR).tickValues(logMajor).tickSize(4).tickPadding(5.5))
    .call(styleAxis).call(superLabels);
svg.append("g").attr("transform", `translate(${R.x0},0)`)
    .call(d3.axisLeft(yR).tickValues(fTicks).tickFormat(d3.format(".1f")).tickSize(4).tickPadding(4))
    .call(styleAxis);

svg.append("path")
    .attr("d", `M${R.x1},${R.y0}H${R.x0}V${R.y1}H${R.x1}`)
    .style("fill", "none").style("stroke", "#222").style("stroke-width", 0.9);

// legend
const lg = svg.append("g");
lg.append("rect").attr("x", 713).attr("y", 21).attr("width", 292).attr("height", 66).attr("rx", 3)
    .style("fill", "#fff").style("fill-opacity", 0.8).style("stroke", "#ccc").style("stroke-width", 1);
lg.append("path").attr("d", cross).attr("transform", "translate(741.7,38)")
    .style("stroke", "#333").style("stroke-width", 1.1);
lg.append("text").attr("x", 778).attr("y", 45).style("font-size", "20px").text("real KOIs");
lg.append("line").attr("x1", 720.7).attr("x2", 762.7).attr("y1", 67).attr("y2", 67)
    .style("stroke", "#f03434").style("stroke-width", 1.6);
lg.append("text").attr("x", 778).attr("y", 74).style("font-size", "20px").text("geometric upper limit");

// ---------- axis titles ----------
function mathLabel(g, parts, size, subShift, subScale) {
  const t = g.append("text").attr("text-anchor", "middle").style("font-size", size + "px");
  let shift = 0;
  parts.forEach(p => {
    const target = p.sub ? subShift : 0;
    const span = t.append("tspan").text(p.t)
        .style("font-style", p.italic === false ? "normal" : "italic")
        .style("font-size", (p.sub ? size * subScale : size) + "px");
    if (target !== shift) span.attr("dy", target - shift);
    if (p.gap) span.attr("dx", p.gap);
    shift = target;
  });
  return t;
}

const rpLabel = [{t: "r"}, {t: "p", sub: true, gap: 1}, {t: "/", gap: 3}, {t: "R", gap: 2},
                 {t: "\u22c6", sub: true, italic: false, gap: 1}];

mathLabel(svg.append("g").attr("transform", "translate(27,180) rotate(-90)"), rpLabel, 29, 3, 0.7);
mathLabel(svg.append("g").attr("transform", "translate(961,401)"), rpLabel, 29, 2, 0.7);
mathLabel(svg.append("g").attr("transform", "translate(659,184) rotate(-90)"),
    [{t: "f"}, {t: "grazing", sub: true, gap: 4}], 36, 3, 0.75);

svg.append("text").attr("x", 345).attr("y", 403).attr("text-anchor", "middle")
    .style("font-size", "30px").text("b");
</script>
</body>
</html>
